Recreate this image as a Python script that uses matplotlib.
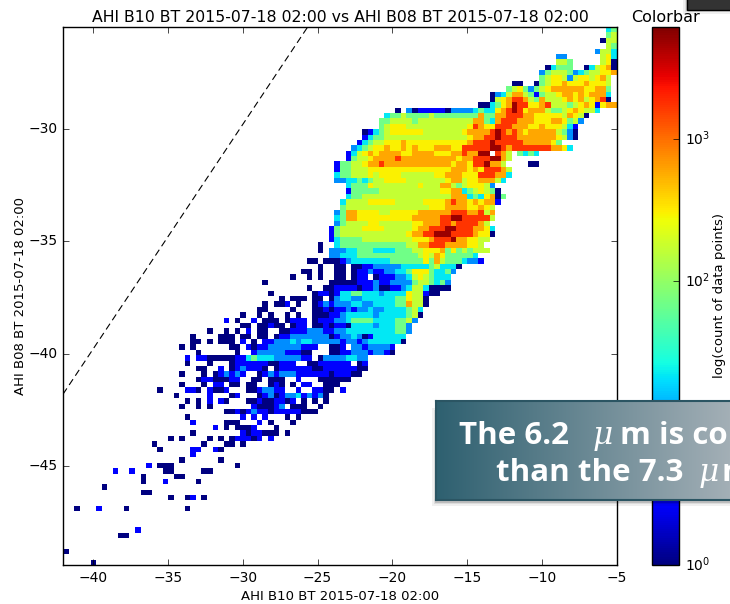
# 2d histogram of AHI B10 vs B08 brightness temperature, with the slide overlay boxes on top

import numpy as np
import matplotlib
matplotlib.use('Agg')
import matplotlib.pyplot as plt
from matplotlib.colors import LogNorm, LinearSegmentedColormap
from matplotlib.patches import Rectangle

# histogram cells, row number from the top -> (first column, levels)
# a level digit is looked up in level_counts
level_counts = [1, 3, 10, 22, 70, 170, 300, 600, 1700, 5000]

rows_top = {
    0: [(98, "34")],
    1: [(98, "45")],
    2: [(97, "055")],
    3: [(98, "54")],
    4: [(96, "2553")],
    5: [(89, "22"), (97, "563")],
    6: [(89, "554"), (97, "560")],
    7: [(87, "03444"), (94, "035670")],
    8: [(86, "2455542"), (93, "3455667")],
    9: [(86, "45665"), (91, "2"), (92, "5665675")],
    10: [(81, "00"), (85, "04566766676665")],
    11: [(80, "4564"), (84, "2"), (85, "45677777766774")],
    12: [(77, "0235775"), (84, "41"), (86, "45567767677"), (97, "73")],
    13: [(77, "056788754"), (86, "755567675678"), (98, "0")],
    14: [(75, "003467988667"), (87, "85554567656776"), (96, "1")],
    15: [(60, "0"), (62, "20111110222234336789867775445676553")],
    16: [(58, "34454444544444444"), (75, "74477888776666657650")],
    17: [(57, "44555545555555555"), (74, "77437888777666776452")],
    18: [(57, "45666555555555556"), (74, "8766888777667666531")],
    19: [(54, "0134566666655555556"), (73, "77778987876777775420")],
    20: [(54, "13445555555555555556"), (74, "7788988877777776520")],
    21: [(53, "134556667666666666667"), (74, "8889888887777764")],
}

rows_mid = {
    22: [(52, "23456676676766677766888889"), (78, "98788888887763")],
    23: [(51, "1356767777667777666778779"), (76, "9 875 42"), (83, "343")],
    24: [(51, "14556777787777777777677888"), (77, "9975")],
    25: [(49, "14455677877777777777767768897"), (78, "75"), (84, "00")],
    26: [(49, "14455566666666666666677767688875")],
    27: [(49, "34455565666655555566777666888773")],
    28: [(49, "2233434556666555555567756677753")],
    29: [(51, "344465555555565557754566652")],
    30: [(51, "144444555555555556677345654"), (78, "0")],
    31: [(51, "34455555555555555557773436764"), (78, "0")],
    32: [(50, "3555566666555556666787767677"), (78, "1")],
    33: [(50, "4555555555555555666777766765")],
    34: [(49, "24776666556666677777788877887"), (76, "5")],
    35: [(49, "3477666666666677777889988888"), (77, "5")],
    36: [(49, "2455556655555566777887888876"), (76, "5")],
    37: [(48, "145555666655555677888998887765"), (77, "3")],
    38: [(48, "145555555555556778899988887665"), (77, "0")],
    39: [(48, "1344445555555556667888977665"), (75, "55")],
    40: [(46, "0"), (49, "344444444444455778887777665")],
    41: [(46, "0"), (48, "22233444333344455666746454555")],
    42: [(48, "223334444444444456576444443")],
    43: [(44, "00"), (47, "00012333333344444464754443221")],
    44: [(46, "0"), (49, "00"), (52, "001122222333334533"), (70, "30")],
}

rows_blue = {
    45: [(43, "00"), (46, "0"), (49, "00"), (52, "0112112233466643342")],
    46: [(41, "0"), (44, "0"), (46, "0"), (49, "00"), (52, "011"), (56, "01112235654333")],
    47: [(36, "0"), (48, "0000011121122224554342")],
    48: [(44, "0"), (47, "0"), (48, "0111101120011235530000")],
    49: [(37, "0"), (45, "011"), (48, "01334433323333655100")],
    50: [(39, "0"), (41, "000"), (45, "00"), (48, "023322333333446550")],
    51: [(36, "0"), (38, "001"), (42, "0"), (45, "012"), (48, "122233223333447550")],
    52: [(35, "00"), (41, "0"), (45, "001"), (48, "01121223223333453")],
    53: [(32, "0"), (35, "0"), (37, "0"), (40, "0"), (42, "0"), (45, "000"), (48, "11233333233333450")],
    54: [(29, "1"), (31, "0"), (34, "1"), (36, "000"), (40, "0111"), (45, "011"), (48, "1223444433334452")],
    55: [(32, "00"), (35, "0010"), (39, "0"), (41, "011"), (45, "001"), (48, "011033332333442")],
    56: [(26, "0"), (29, "0"), (31, "0"), (33, "1"), (35, "00"), (39, "001112221"), (48, "122333333333442")],
    57: [(23, "0"), (28, "000"), (32, "00"), (35, "00"), (38, "0112222222"), (48, "01223201333333")],
    58: [(23, "00"), (26, "0"), (28, "000"), (32, "1"), (34, "0"), (36, "112223233222"), (48, "22122123333330")],
    59: [(21, "0"), (23, "0"), (30, "00"), (33, "10"), (35, "1122222211"), (45, "1"), (48, "001"), (52, "2212222"), (59, "1")],
    60: [(24, "0"), (31, "0"), (34, "12222211100"), (48, "001122212210")],
    61: [(22, "1"), (24, "11"), (26, "0000"), (30, "011343332222211"), (46, "0"), (47, "22223322")],
    62: [(22, "0"), (26, "0"), (30, "011111100111"), (44, "00"), (46, "111111"), (53, "01")],
    63: [(24, "00"), (28, "1"), (30, "0121110"), (38, "0111111"), (45, "001111"), (51, "1100")],
    64: [(21, "0"), (25, "0"), (27, "012121"), (35, "01212221111"), (46, "11011100")],
    65: [(24, "01"), (26, "100011"), (34, "00"), (37, "000"), (42, "1"), (46, "000000")],
    66: [(21, "0"), (25, "0"), (27, "11"), (30, "00"), (33, "00"), (37, "010"), (41, "0"), (43, "11"), (47, "000")],
}

rows_tail = {
    67: [(17, "0"), (22, "110"), (26, "1"), (27, "00"), (29, "1"), (33, "00"), (35, "12211"), (42, "1"), (45, "110"), (48, "0"), (50, "1")],
    68: [(20, "0"), (26, "1"), (30, "01"), (35, "0120122312121"), (47, "0")],
    69: [(22, "0"), (24, "0"), (26, "1"), (28, "10"), (33, "00100110"), (41, "1"), (43, "0"), (45, "0"), (47, "0")],
    70: [(21, "0"), (24, "0"), (26, "0"), (34, "1"), (35, "00012"), (41, "0"), (42, "00"), (46, "0")],
    71: [(29, "00"), (31, "101211011111000")],
    72: [(22, "0"), (32, "1"), (34, "1"), (36, "1"), (40, "0"), (42, "0")],
    73: [(23, "1"), (29, "000"), (35, "1"), (37, "0"), (41, "0")],
    74: [(27, "1"), (29, "0"), (31, "0001"), (38, "0")],
    75: [(23, "0"), (32, "101100"), (38, "0"), (40, "0")],
    76: [(19, "0"), (21, "0"), (26, "0"), (28, "0"), (30, "011101"), (37, "1")],
    77: [(16, "0"), (25, "0"), (29, "00"), (32, "0")],
    78: [(17, "0"), (23, "11"), (27, "10")],
    79: [(23, "1")],
    80: [(21, "0"), (28, "0")],
    81: [(15, "1"), (17, "000"), (31, "0")],
    82: [(9, "1"), (12, "1"), (18, "00"), (25, "00")],
    83: [(14, "0"), (20, "00")],
    84: [(14, "0"), (18, "1"), (24, "0")],
    85: [(7, "0")],
    86: [(14, "00")],
    87: [(19, "0"), (22, "01"), (25, "0")],
    89: [(2, "0"), (6, "1"), (11, "0"), (22, "0")],
    93: [(13, "1")],
    94: [(10, "00")],
    97: [(0, "0")],
    99: [(5, "0")],
}

x_edges = np.linspace(-42, -5, 101)
y_edges = np.linspace(-49.4, -25.46, 101)

counts = np.full((100, 100), np.nan)
for rows in [rows_top, rows_mid, rows_blue, rows_tail]:
    for r, segments in rows.items():
        for start, levels in segments:
            for i, ch in enumerate(levels):
                if ch != ' ' and start + i < 100:
                    counts[99 - r, start + i] = level_counts[int(ch)]
counts = np.ma.masked_invalid(counts)

W, H = 730.0, 604.0

plt.style.use('classic')
plt.rcParams['font.family'] = ['DejaVu Sans']
plt.rcParams['mathtext.fontset'] = 'dejavuserif'

fig = plt.figure(figsize=(7.3, 6.04), dpi=100, facecolor='white')
ax = fig.add_axes([63 / W, 1 - 565 / H, 554 / W, 538 / H])
mesh = ax.pcolormesh(x_edges, y_edges, counts, cmap='jet', norm=LogNorm(vmin=1, vmax=6150))
ax.plot([-42, -5], [-41.8, -4.8], 'k--', linewidth=0.8, dashes=(5, 3))
ax.set_xlim(-42, -5)
ax.set_ylim(-49.4, -25.46)
ax.set_xticks(np.arange(-40, -4, 5))
ax.set_yticks(np.arange(-45, -29, 5))
ax.tick_params(labelsize=10)
ax.set_xlabel('AHI B10 BT 2015-07-18 02:00', fontsize=9.5, labelpad=4)
ax.set_ylabel('AHI B08 BT 2015-07-18 02:00', fontsize=9.5, labelpad=1)
ax.set_title('AHI B10 BT 2015-07-18 02:00 vs AHI B08 BT 2015-07-18 02:00', fontsize=11.3, pad=3.5)

cax = fig.add_axes([652 / W, 1 - 565 / H, 27 / W, 538 / H])
cb = fig.colorbar(mesh, cax=cax)
# the 10^1 label sits under the slide box
cb.set_ticks([1, 100, 1000])
cb.ax.tick_params(which='minor', length=0)
cb.ax.tick_params(labelsize=10)
cb.set_label('log(count of data points)', fontsize=9.5, labelpad=2)
cax.set_title('Colorbar', fontsize=11.5, pad=3.5)

# slide overlay: shadows first, then the gradient box
for grow, alpha in [(4, 0.06), (2, 0.08), (1, 0.14)]:
    fig.add_artist(Rectangle(((436 - grow) / W, 1 - (500 + grow + 2) / H), 320 / W, (90 + 2 * grow) / H,
                             transform=fig.transFigure, facecolor='black', edgecolor='none', alpha=alpha, zorder=5))
    fig.add_artist(Rectangle(((687 - grow) / W, 1 - (10 + grow) / H), 60 / W, (20 + 2 * grow) / H,
                             transform=fig.transFigure, facecolor='black', edgecolor='none', alpha=alpha, zorder=5))
fig.add_artist(Rectangle((687 / W, 1 - 10 / H), 60 / W, 20 / H, transform=fig.transFigure,
                         facecolor='#333333', edgecolor='black', linewidth=1, zorder=6))

box = fig.add_axes([436 / W, 1 - 500 / H, 294 / W, 99 / H], zorder=10)
box_cmap = LinearSegmentedColormap.from_list('box', ['#2e6070', '#a3afb6'])
box.imshow(np.linspace(0, 1, 256).reshape(1, -1), cmap=box_cmap, aspect='auto')
box.set_xticks([])
box.set_yticks([])
for side in ['left', 'top', 'bottom']:
    box.spines[side].set_color('#2b5563')
    box.spines[side].set_linewidth(1.5)
box.spines['right'].set_visible(False)

# text pieces placed on their own, the original has wide gaps round the mu
text_style = dict(color='white', fontsize=22.5, fontweight='bold', family='Open Sans', zorder=20, va='baseline')
fig.text(459 / W, 1 - 444 / H, 'The 6.2', **text_style)
fig.text(592 / W, 1 - 444 / H, '$\\mu$', **text_style)
fig.text(620 / W, 1 - 444 / H, 'm is co', **text_style)
fig.text(496 / W, 1 - 481 / H, 'than the 7.3', **text_style)
fig.text(698 / W, 1 - 481 / H, '$\\mu$', **text_style)
fig.text(722 / W, 1 - 481 / H, 'm', **text_style)

fig.savefig('out.png', dpi=100, facecolor='white')
